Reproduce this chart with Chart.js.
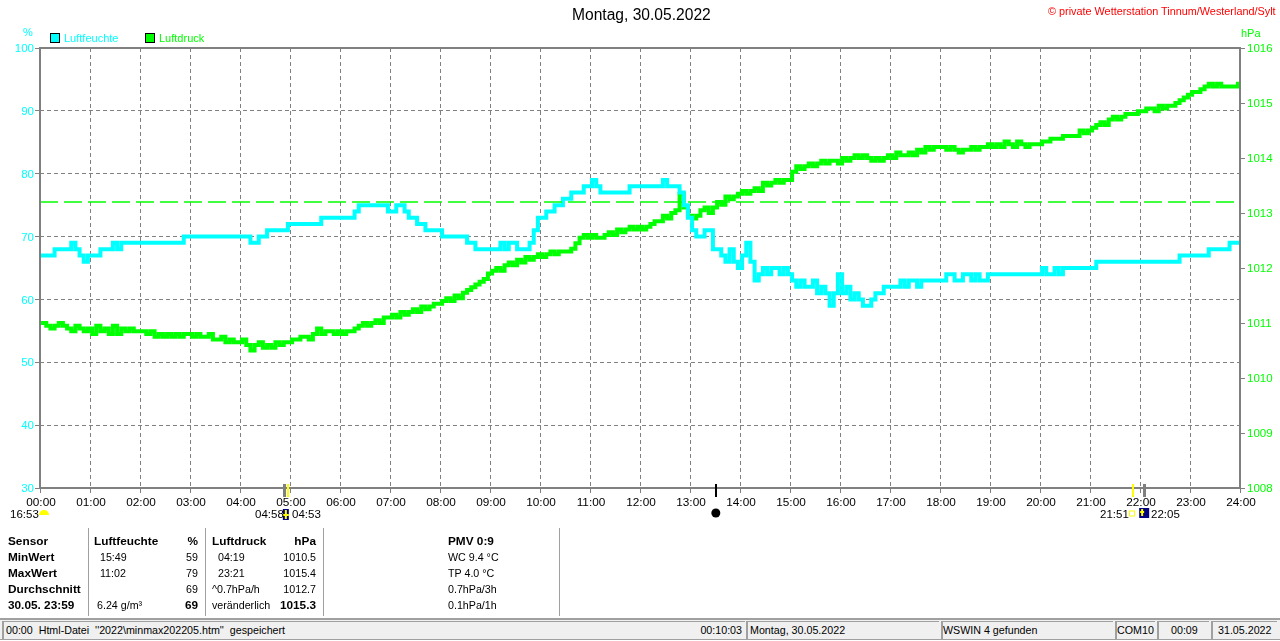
<!DOCTYPE html>
<html>
<head>
<meta charset="utf-8">
<title>Luftfeuchte und Luftdruck</title>
<script src="https://cdn.jsdelivr.net/npm/chart.js@4/dist/chart.umd.min.js"></script>
<style>
  html, body { margin: 0; padding: 0; background: #fff; overflow: hidden; }
  #wrap { position: relative; width: 1280px; height: 641px; font: 10.7px "Liberation Sans", Arial, sans-serif; color: #000; }
  canvas { position: absolute; left: 0; top: 0; }
  .t { position: absolute; white-space: pre; line-height: 14px; }
  .box { position: absolute; box-sizing: border-box; }
</style>
</head>
<body>
<div id="wrap"><canvas id="chart" width="1280" height="641"></canvas></div>
<script>
// 5 minute readings, 00:00 to 24:00
const humidity = [
  67,67,67,67,68,68,68,68,69,68,67,66,
  67,67,67,68,68,68,69,68,69,69,69,69,
  69,69,69,69,69,69,69,69,69,69,69,70,
  70,70,70,70,70,70,70,70,70,70,70,70,
  70,70,70,69,69,70,70,71,71,71,71,71,
  72,72,72,72,72,72,72,72,73,73,73,73,
  73,73,73,73,74,75,75,75,75,75,75,75,
  74,74,75,75,74,73,73,72,72,71,71,71,
  71,70,70,70,70,70,70,69,69,68,68,68,
  68,68,68,69,68,69,69,68,68,68,69,71,
  73,73,74,74,75,75,76,76,77,77,77,78,
  78,79,78,77,77,77,77,77,77,77,78,78,
  78,78,78,78,78,78,79,78,78,78,77,75,
  73,71,70,70,71,71,68,68,67,66,68,66,
  65,67,69,66,63,64,65,64,65,65,64,65,
  64,63,62,63,62,62,63,61,62,61,59,61,
  64,61,62,60,61,60,59,59,60,61,61,62,
  62,62,62,63,62,63,63,62,63,63,63,63,
  63,63,64,64,63,63,64,64,63,64,63,63,
  64,64,64,64,64,64,64,64,64,64,64,64,
  64,65,64,64,65,64,65,65,65,65,65,65,
  65,65,66,66,66,66,66,66,66,66,66,66,
  66,66,66,66,66,66,66,66,66,66,67,67,
  67,67,67,67,67,68,68,68,68,68,69,69,69
];
const pressure = [
  1011.0,1011.0,1010.95,1010.9,1010.95,1011.0,1010.95,1010.9,1010.85,1010.95,1010.9,1010.85,
  1010.9,1010.8,1010.95,1010.85,1010.9,1010.8,1010.95,1010.8,1010.9,1010.85,1010.9,1010.85,
  1010.85,1010.85,1010.8,1010.85,1010.75,1010.8,1010.75,1010.8,1010.75,1010.8,1010.75,1010.8,
  1010.8,1010.75,1010.8,1010.75,1010.75,1010.8,1010.7,1010.7,1010.75,1010.65,1010.7,1010.65,
  1010.65,1010.7,1010.6,1010.5,1010.6,1010.65,1010.55,1010.6,1010.55,1010.65,1010.6,1010.65,
  1010.65,1010.7,1010.7,1010.75,1010.75,1010.7,1010.8,1010.9,1010.8,1010.85,1010.85,1010.8,
  1010.85,1010.8,1010.85,1010.85,1010.9,1010.95,1011.0,1010.95,1011.0,1011.05,1011.0,1011.1,
  1011.1,1011.15,1011.1,1011.2,1011.15,1011.2,1011.25,1011.2,1011.3,1011.25,1011.3,1011.35,
  1011.35,1011.4,1011.45,1011.4,1011.5,1011.45,1011.55,1011.6,1011.65,1011.7,1011.75,1011.8,
  1011.9,1011.95,1012.0,1011.95,1012.05,1012.1,1012.05,1012.15,1012.1,1012.2,1012.15,1012.2,
  1012.25,1012.2,1012.25,1012.3,1012.25,1012.3,1012.3,1012.3,1012.35,1012.45,1012.55,1012.6,
  1012.55,1012.6,1012.55,1012.55,1012.6,1012.65,1012.6,1012.7,1012.65,1012.7,1012.75,1012.7,
  1012.75,1012.7,1012.75,1012.8,1012.85,1012.85,1012.95,1012.9,1013.0,1013.05,1013.35,1013.1,
  1012.95,1012.9,1012.95,1013.05,1013.1,1013.0,1013.1,1013.2,1013.15,1013.3,1013.25,1013.3,
  1013.35,1013.4,1013.35,1013.4,1013.45,1013.4,1013.55,1013.5,1013.55,1013.6,1013.55,1013.6,
  1013.6,1013.75,1013.85,1013.8,1013.85,1013.9,1013.85,1013.9,1013.95,1013.9,1013.95,1013.95,
  1013.9,1014.0,1013.95,1014.0,1014.05,1014.0,1014.05,1014.0,1013.95,1014.0,1013.95,1014.0,
  1014.05,1014.0,1014.1,1014.05,1014.05,1014.1,1014.05,1014.15,1014.1,1014.2,1014.15,1014.2,
  1014.2,1014.2,1014.15,1014.2,1014.15,1014.1,1014.15,1014.15,1014.2,1014.15,1014.2,1014.2,
  1014.25,1014.2,1014.25,1014.2,1014.3,1014.25,1014.2,1014.3,1014.25,1014.2,1014.25,1014.25,
  1014.25,1014.3,1014.3,1014.35,1014.35,1014.35,1014.4,1014.4,1014.4,1014.4,1014.5,1014.45,
  1014.5,1014.55,1014.6,1014.65,1014.6,1014.7,1014.75,1014.7,1014.75,1014.8,1014.8,1014.8,
  1014.85,1014.85,1014.9,1014.9,1014.85,1014.95,1014.9,1014.95,1014.95,1015.0,1015.05,1015.1,
  1015.15,1015.2,1015.2,1015.25,1015.3,1015.35,1015.3,1015.35,1015.3,1015.3,1015.3,1015.3,1015.35
];
const pressureMark = [1013.2, 1013.2];
const pressureMarkTimes = [0, 1440];

const humidityTicks = [30, 40, 50, 60, 70, 80, 90, 100];
const pressureTicks = [1008, 1009, 1010, 1011, 1012, 1013, 1014, 1015, 1016];

// sun and moon times in minutes
const sunTicks = [
  { time: 293, color: '#808080', w: 3 }, { time: 298, color: '#ffff00', w: 2 },
  { time: 811, color: '#000000', w: 2 },
  { time: 1311, color: '#ffff00', w: 2 }, { time: 1325, color: '#808080', w: 3 }
];

const tableRows = [
  ['Sensor', 'Luftfeuchte', '%', 'Luftdruck', 'hPa', 'PMV 0:9'],
  ['MinWert', '  15:49', '59', '  04:19', '1010.5', 'WC 9.4 °C'],
  ['MaxWert', '  11:02', '79', '  23:21', '1015.4', 'TP 4.0 °C'],
  ['Durchschnitt', '', '69', '^0.7hPa/h', '1012.7', '0.7hPa/3h'],
  ['30.05. 23:59', ' 6.24 g/m³', '69', 'veränderlich', '1015.3', '0.1hPa/1h']
];

const wrap = document.getElementById('wrap');

function put(text, x, y, style) {
  const el = document.createElement('div');
  el.className = 't';
  el.textContent = text;
  el.style.top = (y - 7) + 'px';
  if (style && style.right) el.style.right = (1280 - x) + 'px';
  else el.style.left = x + 'px';
  if (style && style.color) el.style.color = style.color;
  if (style && style.bold) { el.style.fontWeight = 'bold'; el.style.fontSize = '11.8px'; }
  if (style && style.size) el.style.fontSize = style.size + 'px';
  wrap.appendChild(el);
}

function box(x, y, w, h, css) {
  const el = document.createElement('div');
  el.className = 'box';
  el.style.cssText = 'left:' + x + 'px;top:' + y + 'px;width:' + w + 'px;height:' + h + 'px;' + css;
  wrap.appendChild(el);
}

// head
put('Montag, 30.05.2022', 572, 15, { size: 15.6 });
put('© private Wetterstation Tinnum/Westerland/Sylt', 1048, 11, { color: '#ff0000', size: 10.85 });
put('%', 23, 32, { color: '#00ffff', size: 11 });
put('hPa', 1241, 33, { color: '#00ff00', size: 11 });
box(50, 33, 10, 10, 'background:#00ffff;border:1px solid #000;');
put('Luftfeuchte', 64, 38, { color: '#00ffff', size: 11 });
box(145, 33, 10, 10, 'background:#00ff00;border:1px solid #000;');
put('Luftdruck', 159, 38, { color: '#00ff00', size: 11 });

// sun and moon labels
put('16:53', 10, 514, { size: 11.5 });
put('04:58', 255, 514, { size: 11.5 });
put('04:53', 292, 514, { size: 11.5 });
put('21:51', 1100, 514, { size: 11.5 });
put('22:05', 1151, 514, { size: 11.5 });

// table under the chart
const rowY = [541, 557, 573, 589, 605];
tableRows.forEach(function (row, i) {
  const head = i === 0;
  const last = i === 4;
  put(row[0], 8, rowY[i], { bold: true });
  put(row[1], 94, rowY[i], { bold: head });
  put(row[2], 198, rowY[i], { right: true, bold: head || last });
  put(row[3], 212, rowY[i], { bold: head });
  put(row[4], 316, rowY[i], { right: true, bold: head || last });
  put(row[5], 448, rowY[i], { bold: head });
});
[88, 205, 323, 559].forEach(function (x) {
  box(x, 528, 1, 88, 'background:#a0a0a0;');
});

// status bar
box(0, 618, 1280, 2, 'background:#a0a0a0;');
box(0, 620, 1280, 19, 'background:#f0f0f0;');
box(0, 639, 1280, 1, 'background:#a0a0a0;');
[[2, 743], [746, 193], [941, 172], [1115, 40], [1157, 52], [1211, 66]].forEach(function (c) {
  box(c[0], 621, c[1], 18, 'border-left:2px solid #a0a0a0;border-top:1px solid #a0a0a0;');
});
put("00:00  Html-Datei  ''2022\\minmax202205.htm''  gespeichert", 6, 630);
put('00:10:03', 742, 630, { right: true });
put('Montag, 30.05.2022', 750, 630);
put('WSWIN 4 gefunden', 943, 630);
put('COM10', 1117, 630);
put('00:09', 1171, 630);
put('31.05.2022', 1218, 630);

// frame round the plot, sun and moon marks under it
const framePlugin = {
  id: 'frame',
  afterDraw(chart) {
    const c = chart.ctx, a = chart.chartArea, xs = chart.scales.x;
    c.save();
    c.strokeStyle = '#808080';
    c.lineWidth = 2;
    c.strokeRect(a.left, a.top, a.right - a.left, a.bottom - a.top);
    sunTicks.forEach(function (m) {
      const x = Math.round(xs.getPixelForValue(m.time));
      c.fillStyle = m.color;
      c.fillRect(x - 1, a.bottom - 4, m.w, 13);
    });
    const iconY = a.bottom + 26;
    // setting sun at the left
    c.fillStyle = '#ffff00';
    c.beginPath();
    c.arc(44, iconY + 1, 5, Math.PI, 0);
    c.fill();
    // sunrise
    const rise = xs.getPixelForValue(295);
    c.fillStyle = '#000080';
    c.fillRect(rise - 3, iconY - 5, 6, 11);
    c.fillStyle = '#ffff00';
    c.fillRect(rise - 1, iconY - 4, 2, 9);
    c.fillRect(rise - 3, iconY, 6, 2);
    // moon
    c.fillStyle = '#000000';
    c.beginPath();
    c.arc(xs.getPixelForValue(811), iconY - 1, 4.5, 0, 2 * Math.PI);
    c.fill();
    // evening
    const set = xs.getPixelForValue(1325);
    c.fillStyle = '#000080';
    c.fillRect(set - 5, iconY - 6, 10, 10);
    c.fillStyle = '#ffff00';
    c.fillRect(set - 3, iconY - 5, 2, 7);
    c.fillRect(set - 4, iconY - 3, 4, 2);
    c.strokeStyle = '#ffff00';
    c.lineWidth = 1;
    c.strokeRect(xs.getPixelForValue(1311) - 3, iconY - 3, 5, 5);
    c.restore();
  }
};

const minutes = humidity.map(function (v, i) { return i * 5; });
function points(times, values) {
  return values.map(function (v, i) { return { x: times[i], y: v }; });
}
function hhmm(v) {
  return String(v / 60).padStart(2, '0') + ':00';
}

new Chart(document.getElementById('chart').getContext('2d'), {
  type: 'line',
  data: {
    datasets: [
      { label: 'Luftdruck Mittel', data: points(pressureMarkTimes, pressureMark), yAxisID: 'y2', borderColor: '#00ff00', borderWidth: 1.5, borderDash: [18, 6], pointRadius: 0 },
      { label: 'Luftfeuchte', data: points(minutes, humidity), yAxisID: 'y', borderColor: '#00ffff', borderWidth: 4, pointRadius: 0, stepped: 'middle' },
      { label: 'Luftdruck', data: points(minutes, pressure), yAxisID: 'y2', borderColor: '#00ff00', borderWidth: 4, pointRadius: 0, stepped: 'middle' }
    ]
  },
  plugins: [framePlugin],
  options: {
    responsive: false,
    animation: false,
    devicePixelRatio: 1,
    layout: { padding: { top: 48 } },
    plugins: { legend: { display: false }, tooltip: { enabled: false } },
    scales: {
      x: {
        type: 'linear', min: 0, max: 1440,
        afterFit(s) { s.height = 153; },
        grid: { color: '#808080', tickColor: '#808080', tickLength: 5 },
        border: { display: false, dash: [4, 3] },
        ticks: { stepSize: 60, autoSkip: false, maxRotation: 0, padding: 3, labelOffset: 1, color: '#000', font: { family: 'Liberation Sans', size: 11.8 }, callback: hhmm }
      },
      y: {
        position: 'left', min: 30, max: 100,
        afterFit(s) { s.width = 40; },
        afterBuildTicks(s) { s.ticks = humidityTicks.map(function (v) { return { value: v }; }); },
        grid: { color: '#808080', tickColor: '#808080', tickLength: 5 },
        border: { display: false, dash: [4, 3] },
        ticks: { padding: 1, labelOffset: 1, color: '#00ffff', font: { family: 'Liberation Sans', size: 11.5 } }
      },
      y2: {
        position: 'right', min: 1008, max: 1016,
        afterFit(s) { s.width = 40; },
        afterBuildTicks(s) { s.ticks = pressureTicks.map(function (v) { return { value: v }; }); },
        grid: { drawOnChartArea: false, tickColor: '#808080', tickLength: 5 },
        border: { display: false },
        ticks: { padding: 2, labelOffset: 1, color: '#00ff00', font: { family: 'Liberation Sans', size: 11.5 }, callback: function (v) { return String(v); } }
      }
    }
  }
});
</script>
</body>
</html>
